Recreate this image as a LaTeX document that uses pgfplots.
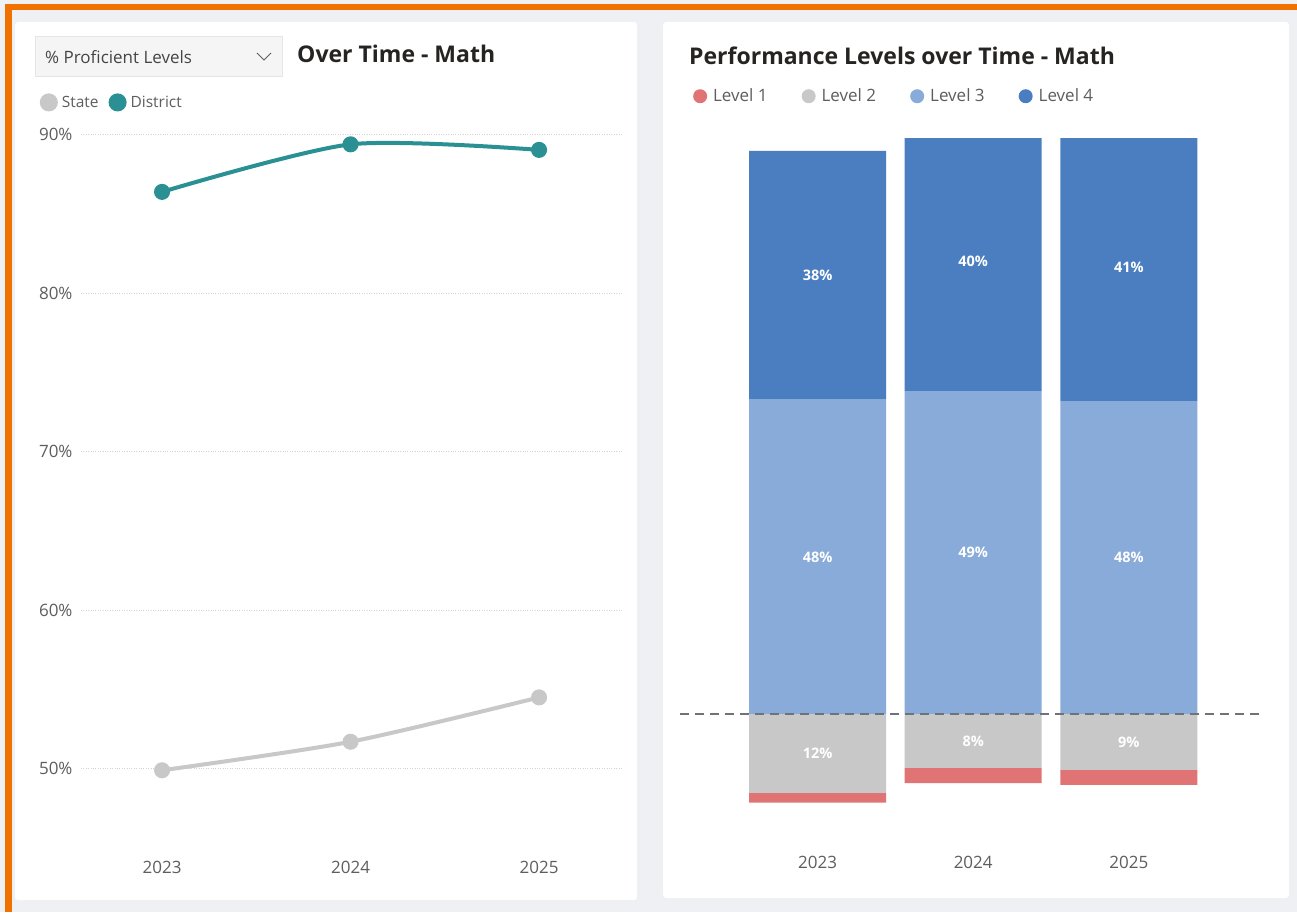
\documentclass[border=0pt]{standalone}
\usepackage{pgfplots}
\pgfplotsset{compat=1.18}
\usepackage{pgfplotstable}
\usepackage{fontspec}
\setmainfont{Open Sans}
\definecolor{bg}{HTML}{EEF0F3}
\definecolor{orng}{HTML}{F07100}
\definecolor{distTeal}{HTML}{2A9093}
\definecolor{stateGrey}{HTML}{C8C8C8}
\definecolor{lvone}{HTML}{E07474}
\definecolor{lvtwo}{HTML}{C8C8C8}
\definecolor{lvthree}{HTML}{88ABD9}
\definecolor{lvfour}{HTML}{4A7EC0}
\definecolor{txt}{HTML}{252423}
\definecolor{subtxt}{HTML}{605E5C}
\definecolor{gridc}{HTML}{D4D4D4}
\definecolor{dashc}{HTML}{6E7378}

\pgfplotstableread{
x state district
0 49.9 86.4
1 51.7 89.4
2 54.5 89.05
}\linedata

\pgfplotstableread{
x l1 l2 l3 l4
0 1.5 12.0 48.0 38
1 2.3 8.2 49.3 40
2 2.3 8.5 47.8 41
}\bardata

\pgfplotstableread{
x y lab
0 67.0 38
1 69.2 40
2 68.2 41
0 24.0 48
1 24.7 49
2 24.0 48
0 -5.95 12
1 -4.1 8
2 -4.3 9
}\labdata

\pgfplotsset{
  rightbase/.style={
    scale only axis, width=585pt, height=701pt,
    xmin=-0.884, xmax=2.875, ymin=-19.2, ymax=87.8,
  },
}

\begin{document}
\begin{tikzpicture}[x=1pt,y=1pt]
% background
\fill[bg] (0,0) rectangle (1297,912);
\fill[orng] (5,902) rectangle (1297,908);
\fill[orng] (5,0) rectangle (12,908);
\fill[white, rounded corners=3pt] (15,12) rectangle (637,890);
\fill[white, rounded corners=3pt] (663,14) rectangle (1289,890);

% dropdown
\filldraw[fill=white!96!black, draw=white!90!black, line width=0.8pt] (35,836) rectangle (282,876);
\node[anchor=west, text=txt!85!white, font=\fontsize{17}{17}\selectfont, inner sep=0pt] at (45,855) {\% Proficient Levels};
\draw[subtxt, line width=0.9pt] (257,859) -- (264,852) -- (271,859);
% titles
\node[anchor=west, text=txt, font=\fontsize{23}{23}\selectfont\bfseries, inner sep=0pt] at (297,858) {Over Time - Math};
\node[anchor=west, text=txt, font=\fontsize{23}{23}\selectfont\bfseries, inner sep=0pt] at (689,856) {Performance Levels over Time - Math};

% ---------- left line chart ----------
\begin{scope}[shift={(81pt,72pt)}]
\begin{axis}[
  at={(0pt,0pt)}, anchor=south west,
  scale only axis, width=541pt, height=721pt,
  xmin=-0.43, xmax=2.44, ymin=45.5, ymax=91,
  axis line style={draw=none},
  major tick length=0pt,
  xtick={0,1,2}, xticklabels={2023,2024,2025},
  ytick={50,60,70,80,90},
  ymajorgrids, grid style={gridc, dotted, line width=1pt},
  /pgf/number format/assume math mode=true,
  yticklabel={\pgfmathprintnumber{\tick}\%},
  ticklabel style={text=subtxt, font=\fontsize{17}{17}\selectfont},
  xticklabel style={yshift=-18pt},
  yticklabel style={xshift=-5pt},
  legend style={draw=none, fill=none, at={(-0.082,1.023)}, anchor=west,
    font=\fontsize{15.5}{15.5}\selectfont, text=subtxt,
    /tikz/every even column/.append style={column sep=8pt}},
  legend columns=2,
  legend image code/.code={\fill[#1] (0pt,0pt) circle (7pt); \path[draw=none, fill=none] (-7pt,0pt) rectangle (11pt,0pt);},
]
\addplot[smooth, tension=0.45, color=stateGrey, line width=4pt, mark=*, mark size=6pt, mark options={fill=stateGrey, draw=none}]
  table[x=x, y=state] {\linedata};
\addplot[smooth, tension=0.45, color=distTeal, line width=4pt, mark=*, mark size=6pt, mark options={fill=distTeal, draw=none}]
  table[x=x, y=district] {\linedata};
\legend{State, District}
\end{axis}
\end{scope}

\begin{scope}[shift={(680pt,72pt)}]
% ---------- right bar chart: positive stack ----------
\begin{axis}[
  rightbase, at={(0pt,0pt)}, anchor=south west,
  ybar stacked, bar width=137pt,
  axis line style={draw=none},
  major tick length=0pt,
  xtick={0,1,2}, xticklabels={2023,2024,2025}, ytick=\empty,
  ticklabel style={text=subtxt, font=\fontsize{17}{17}\selectfont},
  xticklabel style={yshift=-13pt},
]
\addplot[fill=lvthree, draw=none] table[x=x, y=l3] {\bardata};
\addplot[fill=lvfour, draw=none] table[x=x, y=l4] {\bardata};
\end{axis}

% ---------- right bar chart: negative stack ----------
\begin{axis}[
  rightbase, at={(0pt,0pt)}, anchor=south west, hide axis,
  ybar stacked, bar width=137pt,
]
\addplot[fill=lvtwo, draw=none] table[x=x, y expr=-\thisrow{l2}] {\bardata};
\addplot[fill=lvone, draw=none] table[x=x, y expr=-\thisrow{l1}] {\bardata};
\end{axis}

% ---------- labels, baseline, legend ----------
\begin{axis}[
  rightbase, at={(0pt,0pt)}, anchor=south west, hide axis,
  legend style={draw=none, fill=none, at={(0.017,1.061)}, anchor=west,
    font=\fontsize{17}{17}\selectfont, text=subtxt,
    /tikz/every even column/.append style={column sep=32pt}},
  legend columns=4,
  legend image code/.code={\fill[#1] (0pt,0pt) circle (7pt); \path[draw=none, fill=none] (-7pt,0pt) rectangle (11pt,0pt);},
]
\addlegendimage{fill=lvone, draw=none}
\addlegendentry{Level 1}
\addlegendimage{fill=lvtwo, draw=none}
\addlegendentry{Level 2}
\addlegendimage{fill=lvthree, draw=none}
\addlegendentry{Level 3}
\addlegendimage{fill=lvfour, draw=none}
\addlegendentry{Level 4}
\addplot[forget plot, dashc, dash pattern=on 9pt off 6pt, line width=2.5pt] coordinates {(-0.884,0) (2.875,0)};
\addplot[forget plot, draw=none, mark=none, point meta=explicit,
  nodes near coords={\pgfmathprintnumber[assume math mode=true]{\pgfplotspointmeta}\%},
  every node near coord/.style={anchor=center, text=white, font=\fontsize{14.5}{14.5}\selectfont\bfseries}]
  table[x=x, y=y, meta=lab] {\labdata};
\end{axis}
\end{scope}

\pgfresetboundingbox
\useasboundingbox (0,0) rectangle (1297,912);
\end{tikzpicture}
\end{document}
